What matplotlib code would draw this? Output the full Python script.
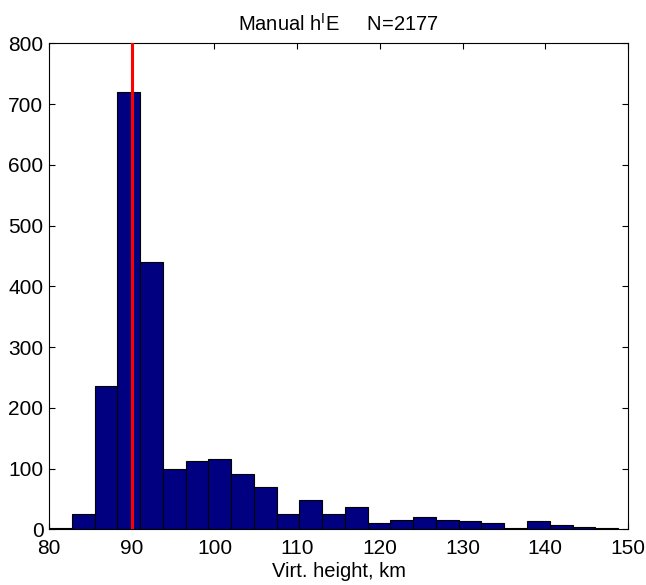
import numpy as np
import matplotlib
matplotlib.use("Agg")
import matplotlib.pyplot as plt

plt.rcParams['font.family'] = ['Liberation Sans', 'DejaVu Sans']
plt.rcParams['mathtext.fontset'] = 'custom'
plt.rcParams['mathtext.rm'] = 'Liberation Sans'

# 25 equal bins between the smallest and largest virtual height
h_min, h_max = 80.0, 148.8
n_bins = 25
counts = [2, 25, 236, 720, 440, 100, 112, 116, 91, 69, 25, 48, 25,
          37, 11, 16, 20, 15, 13, 10, 2, 13, 7, 4, 2]
n_total = 2177
ref_height = 90

edges = np.linspace(h_min, h_max, n_bins + 1)

fig = plt.figure(figsize=(6.46, 5.85), dpi=100)
ax = fig.add_axes([0.0759, 0.0952, 0.8962, 0.8308])

ax.bar(edges[:-1], counts, width=np.diff(edges), align='edge',
       color='#000080', edgecolor='black', linewidth=0.8, zorder=2)
ax.axvline(ref_height, color='red', linewidth=2.2, zorder=3)

ax.set_xlim(80, 150)
ax.set_ylim(0, 800)
ax.set_xticks(np.arange(80, 151, 10))
ax.set_yticks(np.arange(0, 801, 100))
ax.tick_params(direction='in', top=True, right=True, length=4,
               width=0.8, labelsize=15)
ax.tick_params(axis='x', pad=7)
ax.tick_params(axis='y', pad=4)
for s in ax.spines.values():
    s.set_linewidth(0.8)

ax.set_xlabel('Virt. height, km', fontsize=14.5, labelpad=3)
ax.set_title(r'Manual h$^{\mathrm{I}}$E     N=%d' % n_total, fontsize=14.5, pad=9)

fig.savefig('out.png', dpi=100)
